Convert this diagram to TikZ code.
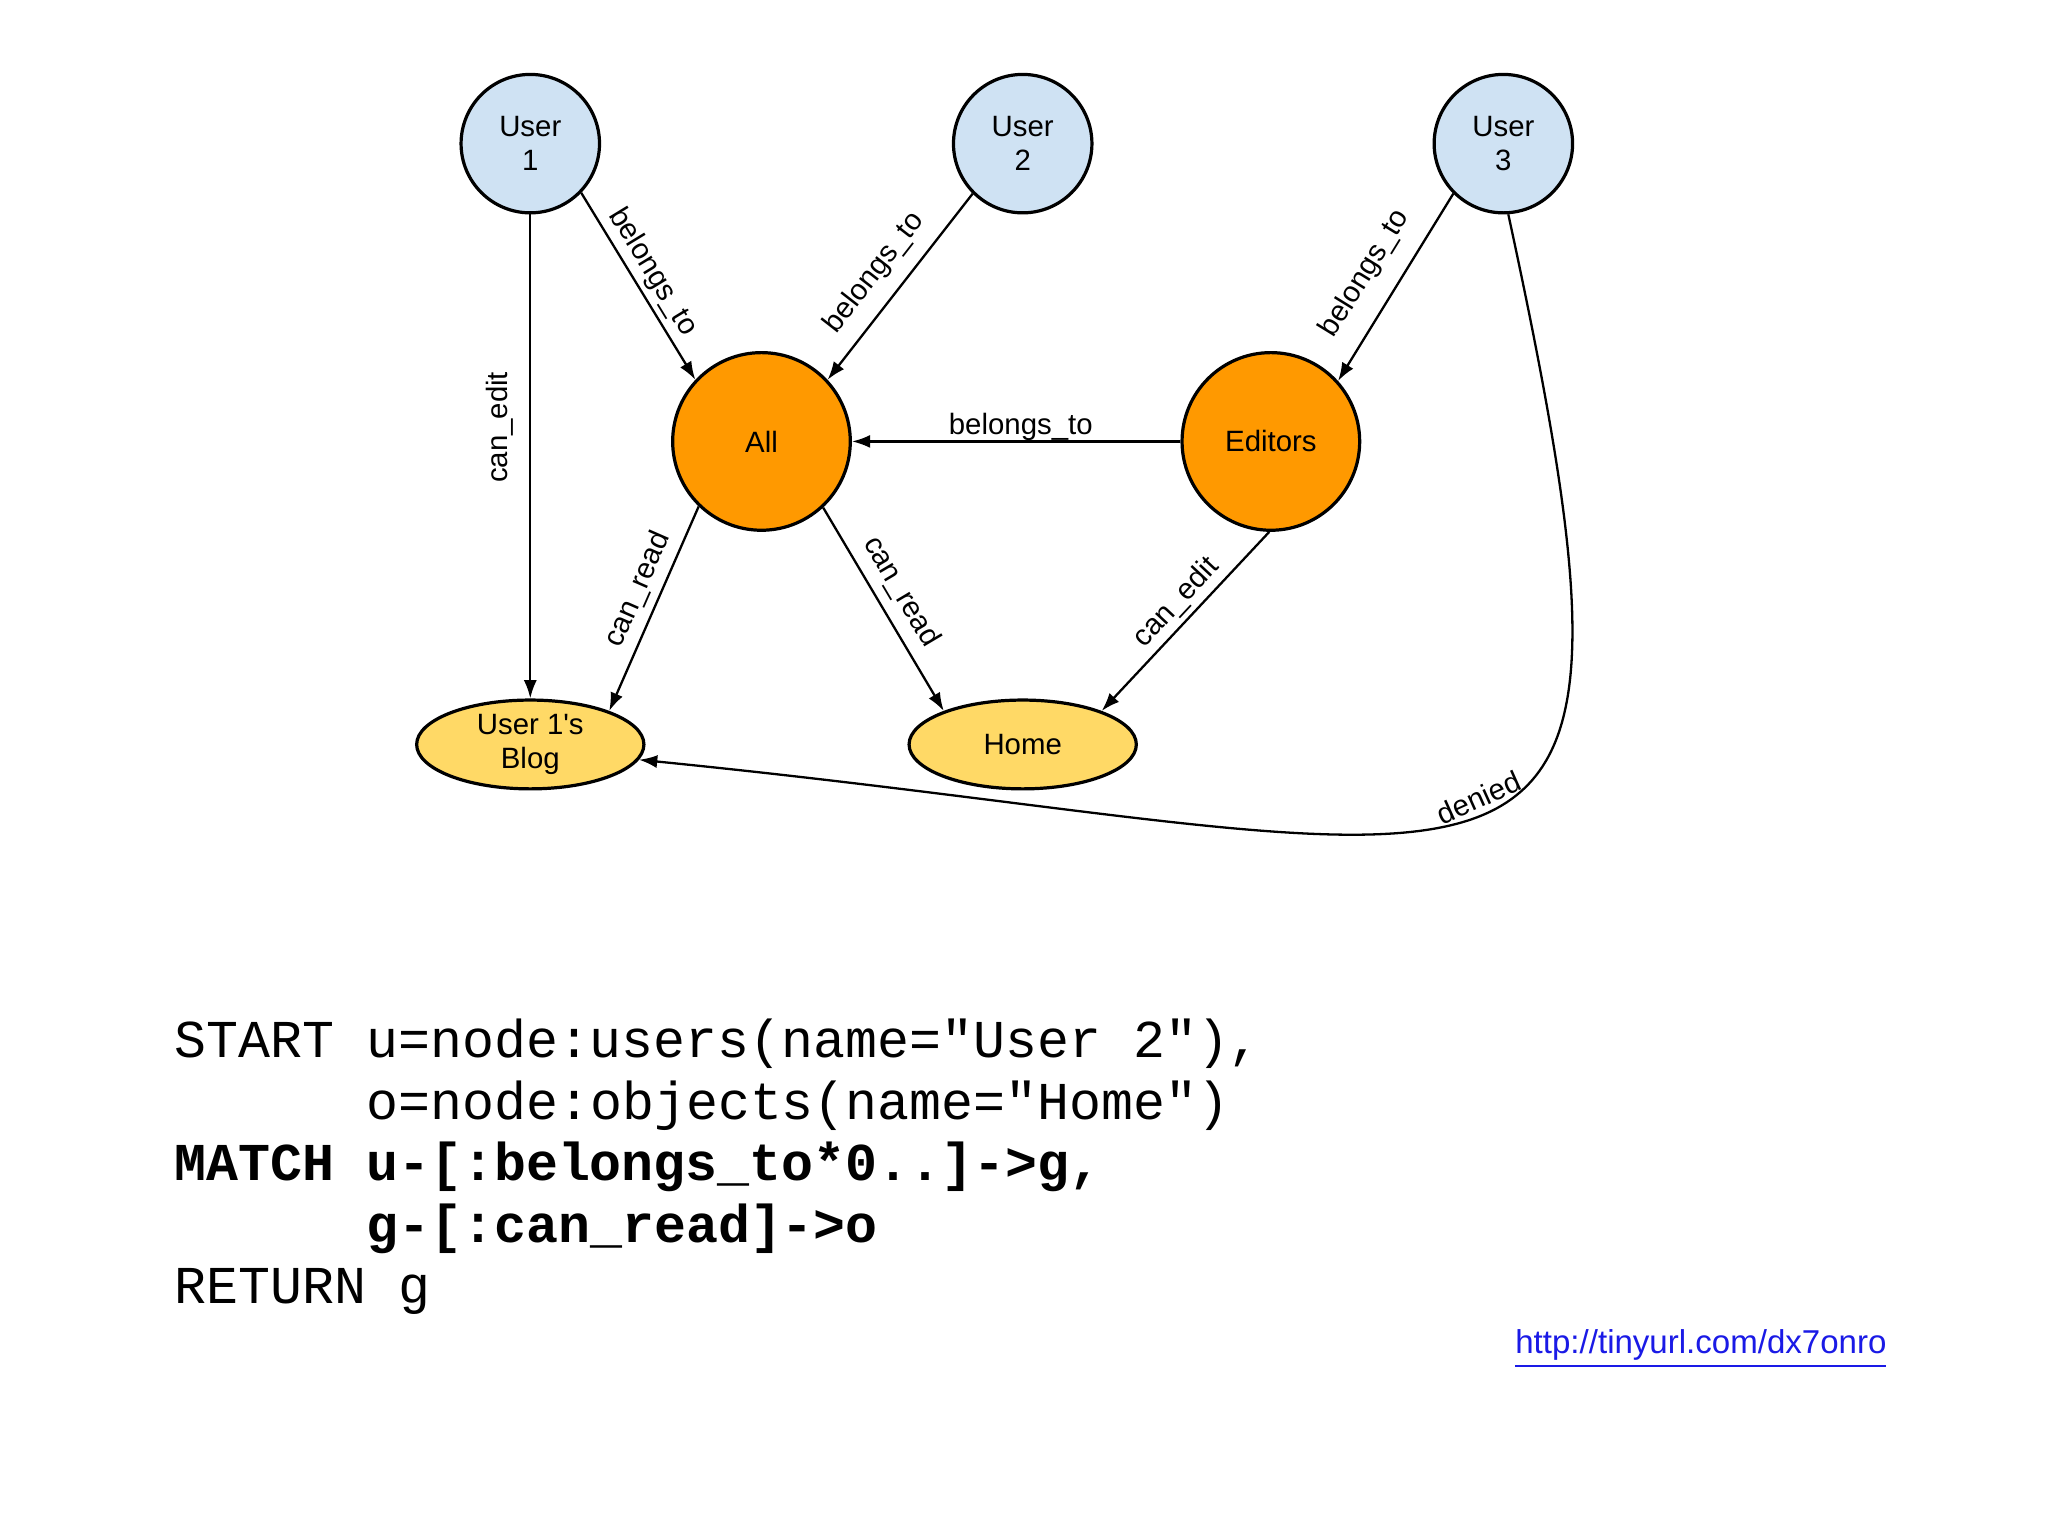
\documentclass[tikz,border=0pt]{standalone}
\usepackage{fontspec}
\usepackage{tikz}
\usetikzlibrary{calc}
\usetikzlibrary{shapes.geometric}
\usetikzlibrary{arrows.meta}

\newfontfamily\labelfont{Liberation Sans}
\newfontfamily\codefont{Liberation Mono}
\newcommand{\nodefont}{\labelfont\fontsize{6.4}{7.3}\selectfont}

\definecolor{userblue}{HTML}{CFE2F3}
\definecolor{grouporange}{HTML}{FF9900}
\definecolor{objectyellow}{HTML}{FFD966}
\definecolor{linkblue}{HTML}{1A1AE6}

\begin{document}
\begin{tikzpicture}[
    user/.style={circle, draw, line width=0.7pt, fill=userblue, minimum size=1.06cm, inner sep=0pt, align=center, font=\nodefont},
    group/.style={circle, draw, line width=0.7pt, fill=grouporange, minimum size=1.36cm, inner sep=0pt, font=\nodefont},
    object/.style={ellipse, draw, line width=0.7pt, fill=objectyellow, minimum width=1.74cm, minimum height=0.68cm, inner sep=0pt, align=center, font=\nodefont},
    rel/.style={-{Latex[length=1.4mm,width=1mm]}, line width=0.5pt},
    lbl/.style={font=\nodefont, sloped, above, inner sep=1pt},
    code/.style={anchor=base west, inner sep=0pt, font=\codefont\fontsize{11.6}{13.4}\selectfont}
]
				\path[fill=white, use as bounding box] (0, 0) rectangle (15.68, 11.76);

				% users
				\node[user] (u1) at (4.06, 10.66) {User\\1};
				\node[user] (u2) at (7.83, 10.66) {User\\2};
				\node[user] (u3) at (11.51, 10.66) {User\\3};

				% groups
				\node[group] (all) at (5.83, 8.38) {All};
				\node[group] (editors) at (9.73, 8.38) {Editors};

				% objects
				\node[object] (blog) at (4.06, 6.06) {User 1's\\Blog};
				\node[object] (home) at (7.83, 6.06) {Home};

				\coordinate (dc1) at (12.85, 4.10);
				\coordinate (dc2) at (11.85, 5.25);

				\draw[rel] (u1.south) -- node[font=\nodefont, rotate=90, anchor=south, inner sep=3.5pt, pos=0.44]{can\_edit} (blog.north);
				\draw[rel] (u1.-44) -- node[lbl, pos=0.48]{belongs\_to} (all.137);
				\draw[rel] (u2.-135) -- node[lbl, above=2pt, pos=0.52]{belongs\_to} (all.43);
				\draw[rel] (u3.-135) -- node[lbl, above=3pt, pos=0.52]{belongs\_to} (editors.42);
				\draw[rel] (editors.west) -- node[font=\nodefont, above, inner sep=0pt, xshift=1pt]{belongs\_to} (all.east);
				\draw[rel] (all.-134) -- node[lbl, above=0.6pt, pos=0.45]{can\_read} (blog.23);
				\draw[rel] (all.-47) -- node[lbl, above=1pt, pos=0.475]{can\_read} (home.157);
				\draw[rel] (editors.-91) -- node[lbl, pos=0.47]{can\_edit} (home.23);
				\draw[rel] (u3.-86) .. controls (dc1) and (dc2) .. node[lbl, pos=0.49]{denied} (blog.-8);

				% query
				\node[code] (code1) at (1.33, 3.66) {START u=node:users(name="User 2"),};
				\node[code] (code2) at (2.80, 3.19) {o=node:objects(name="Home")};
				\node[code] (code3) at (1.33, 2.72) {\bfseries MATCH u-[:belongs\_to*0..]->g,};
				\node[code] (code4) at (2.80, 2.25) {\bfseries g-[:can\_read]->o};
				\node[code] (code5) at (1.33, 1.78) {RETURN g};

				\node[anchor=base east, inner sep=0pt, text=linkblue, font=\labelfont\fontsize{7.2}{8}\selectfont] (url) at (14.45, 1.40) {\underline{http://tinyurl.com/dx7onro}};

			\end{tikzpicture}
\end{document}
